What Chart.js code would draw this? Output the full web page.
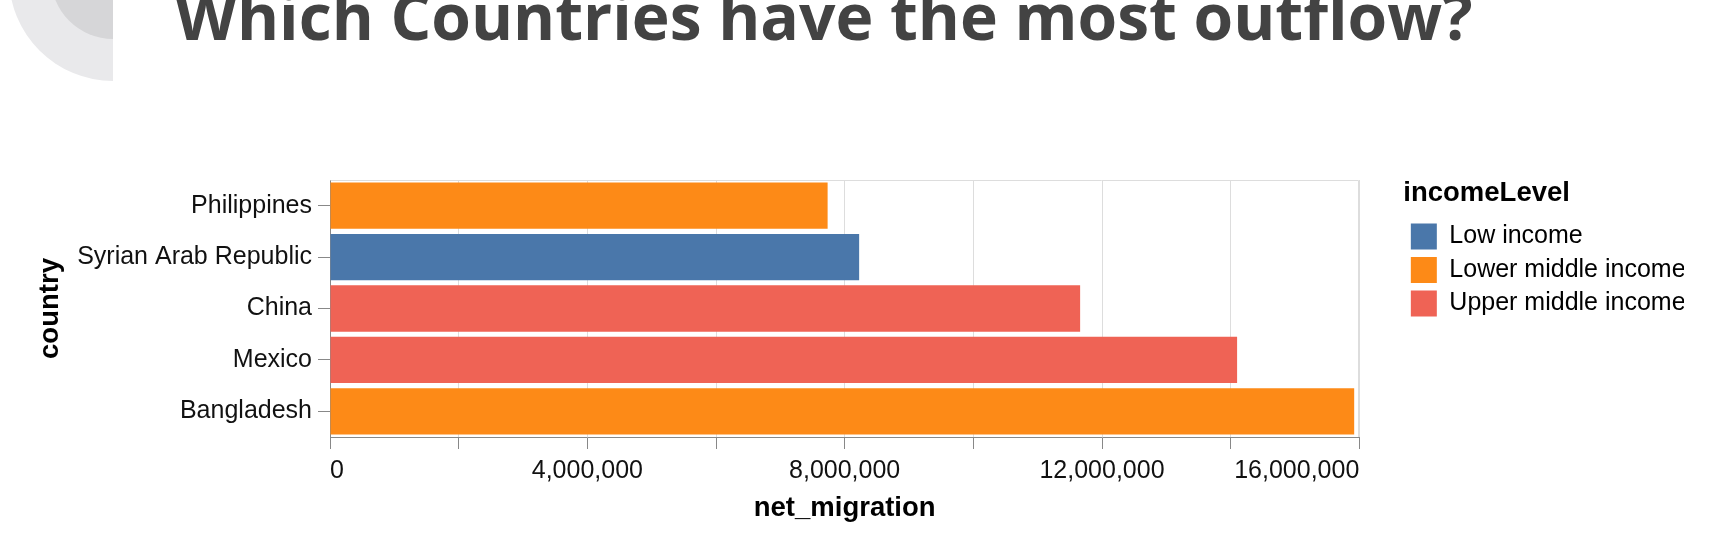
<!DOCTYPE html>
<html>
<head>
<meta charset="utf-8">
<script src="https://cdn.jsdelivr.net/npm/chart.js@4/dist/chart.umd.min.js"></script>
<style>
  html, body { margin: 0; padding: 0; background: #fff; overflow: hidden; }
  #wrap { position: relative; width: 1712px; height: 534px; }
  canvas { display: block; }
</style>
</head>
<body>
<div id="wrap"><canvas id="c" width="1712" height="534"></canvas></div>
<script>
// ---- data ----
const pageTitle = 'Which Countries have the most outflow?';
const countries = ['Philippines', 'Syrian Arab Republic', 'China', 'Mexico', 'Bangladesh'];
const netMigration = [7735000, 8225000, 11660000, 14100000, 15920000];
const countryIncome = ['Lower middle income', 'Low income', 'Upper middle income', 'Upper middle income', 'Lower middle income'];
const incomeLevels = ['Low income', 'Lower middle income', 'Upper middle income'];
const levelColors = ['#4a77aa', '#fd8a17', '#ef6355'];
const xTickMax = 16000000;
const xTickStep = 2000000;
const xLabelStep = 4000000;

const datasets = incomeLevels.map((lvl, k) => ({
  label: lvl,
  data: netMigration.map((v, i) => countryIncome[i] === lvl ? v : null),
  backgroundColor: levelColors[k],
  borderWidth: 0,
  barPercentage: 0.9,
  categoryPercentage: 1.0,
  grouped: false
}));

const decorPlugin = {
  id: 'decor',
  beforeDraw(chart) {
    const ctx = chart.ctx;
    ctx.save();
    ctx.beginPath();
    ctx.rect(0, 0, 113, 534);
    ctx.clip();
    ctx.fillStyle = '#e9e9eb';
    ctx.beginPath(); ctx.arc(113, -23, 104, 0, Math.PI * 2); ctx.fill();
    ctx.fillStyle = '#d6d6d8';
    ctx.beginPath(); ctx.arc(113, -23, 62, 0, Math.PI * 2); ctx.fill();
    ctx.restore();

    ctx.save();
    let size = 66;
    ctx.font = 'bold ' + size + 'px "Open Sans"';
    const w = ctx.measureText(pageTitle).width;
    size = size * 1298 / w;
    ctx.font = 'bold ' + size.toFixed(2) + 'px "Open Sans"';
    ctx.fillStyle = '#434343';
    ctx.textBaseline = 'alphabetic';
    ctx.textAlign = 'left';
    ctx.fillText(pageTitle, 175, 40);
    ctx.restore();
  },
  beforeDatasetsDraw(chart) {
    const a = chart.chartArea;
    const ctx = chart.ctx;
    ctx.save();
    ctx.strokeStyle = '#dddddd';
    ctx.lineWidth = 1;
    ctx.beginPath();
    ctx.moveTo(Math.round(a.left) + 0.5, Math.round(a.top) + 0.5);
    ctx.lineTo(Math.round(a.right) - 0.5, Math.round(a.top) + 0.5);
    ctx.lineTo(Math.round(a.right) - 0.5, Math.round(a.bottom));
    ctx.stroke();
    ctx.restore();
  }
};

new Chart(document.getElementById('c'), {
  type: 'bar',
  data: { labels: countries, datasets },
  plugins: [decorPlugin],
  options: {
    indexAxis: 'y',
    responsive: false,
    animation: false,
    layout: { padding: { left: 0, top: 180, right: 28, bottom: 0 } },
    plugins: {
      tooltip: { enabled: false },
      legend: {
        position: 'right',
        align: 'start',
        title: {
          display: true,
          text: 'incomeLevel',
          position: 'start',
          color: '#000',
          font: { family: '"Liberation Sans", Arial, sans-serif', size: 27.5, weight: 'bold' },
          padding: { top: 0, bottom: 3 }
        },
        labels: {
          boxWidth: 26,
          boxHeight: 26,
          padding: 7.5,
          color: '#000',
          font: { family: '"Liberation Sans", Arial, sans-serif', size: 25 }
        }
      }
    },
    scales: {
      x: {
        type: 'linear',
        position: 'bottom',
        min: 0,
        max: xTickMax,
        afterFit(s) { s.height = 97; },
        grid: { color: '#dddddd', tickColor: '#888888', tickLength: 12, lineWidth: 1 },
        border: { color: '#888888', width: 1 },
        ticks: {
          stepSize: xTickStep,
          autoSkip: false,
          maxRotation: 0,
          align: 'inner',
          padding: 7,
          color: '#111',
          font: { family: '"Liberation Sans", Arial, sans-serif', size: 25 },
          callback: (v) => (v % xLabelStep === 0 ? Number(v).toLocaleString('en-US') : '')
        },
        title: {
          display: true,
          text: 'net_migration',
          color: '#000',
          font: { family: '"Liberation Sans", Arial, sans-serif', size: 27.5, weight: 'bold', lineHeight: 1.2 },
          padding: { top: 0, bottom: 9 }
        }
      },
      y: {
        type: 'category',
        position: 'left',
        afterFit(s) { s.width = 330; },
        grid: { drawOnChartArea: false, offset: false, tickLength: 12, tickColor: '#888888' },
        border: { color: '#888888', width: 1 },
        ticks: {
          padding: 6,
          color: '#111',
          font: { family: '"Liberation Sans", Arial, sans-serif', size: 25 }
        },
        title: {
          display: true,
          text: 'country',
          color: '#000',
          font: { family: '"Liberation Sans", Arial, sans-serif', size: 27.5, weight: 'bold', lineHeight: 1.2 },
          padding: { top: 33.8, bottom: 0 }
        }
      },
      gap: {
        type: 'category',
        position: 'right',
        labels: countries,
        afterFit(s) { s.width = 44; },
        grid: { display: false },
        border: { display: false },
        ticks: { display: false },
        title: { display: false }
      }
    }
  }
});
</script>
</body>
</html>
